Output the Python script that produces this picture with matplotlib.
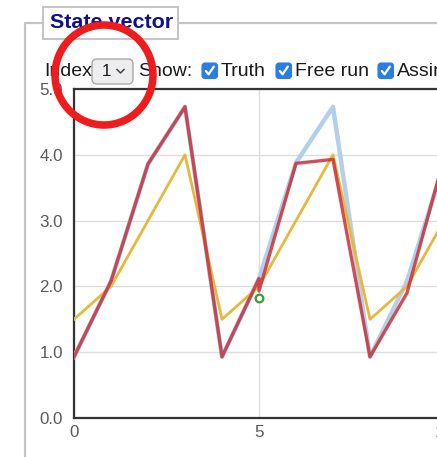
import matplotlib
matplotlib.use("Agg")
import matplotlib.pyplot as plt
from matplotlib.patches import Rectangle, FancyBboxPatch, Ellipse

# ---- data ----
steps = [0, 1, 2, 3, 4, 5, 6, 7, 8, 9, 10]
truth = [0.93, 2.08, 3.86, 4.73, 0.93, 2.12, 3.88, 4.73, 0.93, 2.08, 3.86]
free_run = [1.5, 2.0, 3.0, 4.0, 1.5, 2.0, 3.0, 4.0, 1.5, 2.0, 3.0]
assim_steps = [0, 1, 2, 3, 4, 5, 5, 6, 7, 8, 9, 10]
assim = [0.93, 2.08, 3.86, 4.73, 0.93, 2.12, 1.93, 3.87, 3.93, 0.93, 1.90, 3.95]
obs_steps = [5]
obs = [1.82]
y_ticks = [0.0, 1.0, 2.0, 3.0, 4.0, 5.0]
x_ticks = [0, 5, 10]
show_labels = ["Truth", "Free run", "Assimilation"]
title = "State vector"

W, H = 437, 457
DPI = 100
fig = plt.figure(figsize=(W / DPI, H / DPI), dpi=DPI)
fig.patch.set_facecolor("white")

FONT = "Liberation Sans"
def pt(px):
    return px * 72.0 / DPI

# ---- chart axes (pixel placement) ----
ax_left, ax_top, ax_bottom = 74, 89, 418
px_per_x = 37.0
x_max = 10.6
ax_w = x_max * px_per_x
ax = fig.add_axes([ax_left / W, (H - ax_bottom) / H, ax_w / W, (ax_bottom - ax_top) / H])
ax.set_xlim(0, x_max)
ax.set_ylim(0, 5)

ax.plot(steps, truth, color="#b2d0ea", lw=3.2, solid_joinstyle="round", zorder=3)
ax.plot(steps, free_run, color="#e8b83c", lw=2.0, zorder=4)
ax.plot(assim_steps, assim, color="#c8303a", lw=2.4, alpha=0.85, zorder=5)
ax.plot(obs_steps, obs, linestyle="none", marker="o", ms=5.5, mfc="white",
        mec="#3a9e3a", mew=1.6, zorder=6)

ax.set_yticks(y_ticks)
ax.set_yticklabels([f"{v:.1f}" for v in y_ticks])
ax.set_xticks(x_ticks)
ax.set_xticklabels([str(v) for v in x_ticks])
ax.tick_params(length=0, labelsize=pt(17), labelcolor="#5a5a5a")
ax.tick_params(axis="y", pad=8)
ax.tick_params(axis="x", pad=5)
for lab in ax.get_xticklabels() + ax.get_yticklabels():
    lab.set_fontfamily(FONT)
ax.grid(True, color="#dedede", lw=1.0)
ax.set_axisbelow(True)
for side in ("left", "bottom", "top"):
    ax.spines[side].set_color("#333333")
    ax.spines[side].set_linewidth(1.6)
ax.spines["right"].set_visible(False)

# ---- page overlay in pixel coordinates ----
ov = fig.add_axes([0, 0, 1, 1], facecolor="none")
ov.set_xlim(0, W)
ov.set_ylim(H, 0)
ov.axis("off")

# fieldset border
border = "#c4c4c4"
ov.plot([25, 25, W + 5], [H + 5, 23, 23], color=border, lw=1.6, zorder=1)
ov.add_patch(Rectangle((43, 7), 135, 32, facecolor="white", edgecolor=border, lw=1.4, zorder=2))
ov.text(50, 23, title, fontsize=pt(21.5), fontweight="bold", color="#10108a",
        family=FONT, va="center", ha="left", zorder=3)

# controls row
ty = 71
tcol = "#1a1a1a"
fs = pt(19.5)
ov.text(44, ty, "Index", fontsize=fs, color=tcol, family=FONT, va="center", ha="left")
ov.add_patch(FancyBboxPatch((92, 59), 41, 25, boxstyle="round,pad=0,rounding_size=5",
                            facecolor="#ededf0", edgecolor="#a8a8a8", lw=1.0, zorder=2))
ov.text(102, ty, "1", fontsize=pt(17), color=tcol, family=FONT, va="center", ha="left", zorder=3)
ov.plot([117, 120.5, 124], [69.5, 73, 69.5], color="#444444", lw=1.1, zorder=3)
ov.text(138, ty, "Show:", fontsize=fs, color=tcol, family=FONT, va="center", ha="left")

box_x = [202, 276, 378]
for bx, lab in zip(box_x, show_labels):
    ov.add_patch(FancyBboxPatch((bx, 63), 15.5, 15.5, boxstyle="round,pad=0,rounding_size=3",
                                facecolor="#2b7de1", edgecolor="#2b7de1", lw=0.8, zorder=2))
    ov.plot([bx + 3.8, bx + 6.6, bx + 11.8], [71.0, 74.3, 66.6], color="white", lw=1.6,
            solid_capstyle="round", zorder=3)
    ov.text(bx + 19, ty, lab, fontsize=fs, color=tcol, family=FONT, va="center", ha="left")

# red highlight ring
ov.add_patch(Ellipse((104, 75), 98, 100, facecolor="none", edgecolor="#ee1c1c", lw=pt(7.5), zorder=10))

fig.savefig("out.png", dpi=DPI)
